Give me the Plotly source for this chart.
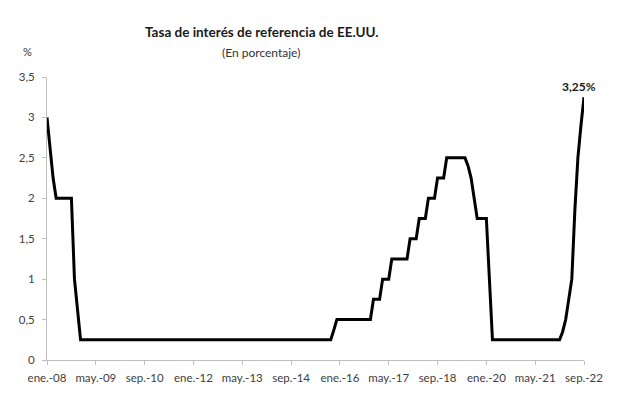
import plotly.graph_objects as go

# ---- data (monthly, Jan 2008 - Sep 2022), % ----
tasa_2008 = [3.0, 2.6, 2.25, 2.0, 2.0, 2.0, 2.0, 2.0, 2.0, 1.0, 0.6, 0.25]
tasa_2009 = [0.25, 0.25, 0.25, 0.25, 0.25, 0.25, 0.25, 0.25, 0.25, 0.25, 0.25, 0.25]
tasa_2010 = [0.25, 0.25, 0.25, 0.25, 0.25, 0.25, 0.25, 0.25, 0.25, 0.25, 0.25, 0.25]
tasa_2011 = [0.25, 0.25, 0.25, 0.25, 0.25, 0.25, 0.25, 0.25, 0.25, 0.25, 0.25, 0.25]
tasa_2012 = [0.25, 0.25, 0.25, 0.25, 0.25, 0.25, 0.25, 0.25, 0.25, 0.25, 0.25, 0.25]
tasa_2013 = [0.25, 0.25, 0.25, 0.25, 0.25, 0.25, 0.25, 0.25, 0.25, 0.25, 0.25, 0.25]
tasa_2014 = [0.25, 0.25, 0.25, 0.25, 0.25, 0.25, 0.25, 0.25, 0.25, 0.25, 0.25, 0.25]
tasa_2015 = [0.25, 0.25, 0.25, 0.25, 0.25, 0.25, 0.25, 0.25, 0.25, 0.25, 0.37, 0.5]
tasa_2016 = [0.5, 0.5, 0.5, 0.5, 0.5, 0.5, 0.5, 0.5, 0.5, 0.5, 0.5, 0.75]
tasa_2017 = [0.75, 0.75, 1.0, 1.0, 1.0, 1.25, 1.25, 1.25, 1.25, 1.25, 1.25, 1.5]
tasa_2018 = [1.5, 1.5, 1.75, 1.75, 1.75, 2.0, 2.0, 2.0, 2.25, 2.25, 2.25, 2.5]
tasa_2019 = [2.5, 2.5, 2.5, 2.5, 2.5, 2.5, 2.4, 2.25, 2.0, 1.75, 1.75, 1.75]
tasa_2020 = [1.75, 1.0, 0.25, 0.25, 0.25, 0.25, 0.25, 0.25, 0.25, 0.25, 0.25, 0.25]
tasa_2021 = [0.25, 0.25, 0.25, 0.25, 0.25, 0.25, 0.25, 0.25, 0.25, 0.25, 0.25, 0.25]
tasa_2022 = [0.25, 0.35, 0.5, 0.75, 1.0, 1.85, 2.5, 2.9, 3.25]

meses = ["ene.", "feb.", "mar.", "abr.", "may.", "jun.",
         "jul.", "ago.", "sep.", "oct.", "nov.", "dic."]
anios = list(range(2008, 2023))
tick_labels = ["ene.-08", "may.-09", "sep.-10", "ene.-12", "may.-13", "sep.-14",
               "ene.-16", "may.-17", "sep.-18", "ene.-20", "may.-21", "sep.-22"]
y_ticks = [0, 0.5, 1, 1.5, 2, 2.5, 3, 3.5]
ultimo_label = "3,25%"

series = [tasa_2008, tasa_2009, tasa_2010, tasa_2011, tasa_2012, tasa_2013,
          tasa_2014, tasa_2015, tasa_2016, tasa_2017, tasa_2018, tasa_2019,
          tasa_2020, tasa_2021, tasa_2022]

categorias = []
valores = []
for anio, vals in zip(anios, series):
    for m, v in enumerate(vals):
        categorias.append(f"{meses[m]}-{str(anio)[2:]}")
        valores.append(v)

# ---- layout geometry (pixels, window coords; page body has 8px margin) ----
OFF = 8
W, H = 617 - OFF, 399 - OFF
L, R, T, B = 47 - OFF, 584 - OFF, 77 - OFF, 360 - OFF
FONT = "Lato"

def px_x(x):
    return (x - OFF - L) / (R - L)

def px_y(y):
    return (B - (y - OFF)) / (B - T)

fig = go.Figure()
fig.add_trace(go.Scatter(
    x=categorias, y=valores, mode="lines",
    line=dict(color="#000000", width=3),
    hoverinfo="skip", showlegend=False,
))

fig.update_layout(
    width=W, height=H,
    margin=dict(l=L, r=W - R, t=T, b=H - B, pad=0, autoexpand=False),
    paper_bgcolor="white", plot_bgcolor="white",
    separators=",.",
    font=dict(family=FONT, size=11, color="#404040"),
    xaxis=dict(
        type="category", automargin=False,
        range=[0, len(categorias) - 1],
        tickmode="array", tickvals=tick_labels, ticktext=tick_labels,
        showgrid=False, zeroline=False,
        showline=True, linecolor="#bfbfbf", linewidth=1,
        ticks="outside", ticklen=4, tickcolor="#bfbfbf",
        tickangle=0, ticklabelstandoff=3,
        tickfont=dict(family=FONT, size=11.5, color="#404040"),
    ),
    yaxis=dict(
        automargin=False,
        range=[0, 3.5],
        tickmode="array", tickvals=y_ticks,
        showgrid=False, zeroline=False,
        showline=True, linecolor="#bfbfbf", linewidth=1,
        ticks="outside", ticklen=4, tickcolor="#bfbfbf",
        ticklabelstandoff=5,
        tickfont=dict(family=FONT, size=11.5, color="#404040"),
    ),
    annotations=[
        dict(text="<b>Tasa de interés de referencia de EE.UU.</b>",
             xref="paper", yref="paper", x=px_x(261), y=px_y(32),
             xanchor="center", yanchor="middle", showarrow=False,
             font=dict(family=FONT, size=13.5, color="#1a1a1a")),
        dict(text="(En porcentaje)",
             xref="paper", yref="paper", x=px_x(261), y=px_y(52),
             xanchor="center", yanchor="middle", showarrow=False,
             font=dict(family=FONT, size=12, color="#333333")),
        dict(text="%",
             xref="paper", yref="paper", x=px_x(27), y=px_y(51),
             xanchor="center", yanchor="middle", showarrow=False,
             font=dict(family=FONT, size=11, color="#333333")),
        dict(text=f"<b>{ultimo_label}</b>",
             x=categorias[-1], y=valores[-1],
             xanchor="center", yanchor="middle", showarrow=False,
             xshift=-5, yshift=11,
             font=dict(family=FONT, size=12, color="#1a1a1a")),
    ],
)

fig.write_html("out.html")
